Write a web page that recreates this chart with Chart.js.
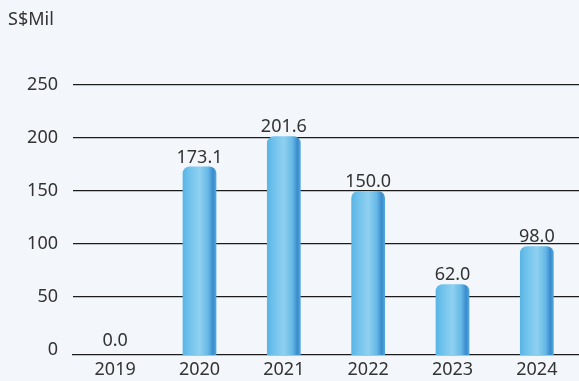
<!DOCTYPE html>
<html>
<head>
<meta charset="utf-8">
<script src="https://cdn.jsdelivr.net/npm/chart.js@4/dist/chart.umd.min.js"></script>
<style>
  html, body { margin: 0; padding: 0; background: #f3f6fa; }
  #wrap { position: relative; width: 579px; height: 381px; }
</style>
</head>
<body>
<div id="wrap"><canvas id="c" width="579" height="381"></canvas></div>
<script>
const categories = ['2019', '2020', '2021', '2022', '2023', '2024'];
const values = [0.0, 173.1, 201.6, 150.0, 62.0, 98.0];
const tickValues = [0, 50, 100, 150, 200, 250];
const unitLabel = 'S$Mil';

const FONT = '"Noto Sans", "Open Sans", sans-serif';
const TEXT = '#333333';
const LINE = '#1c1c1c';
const Y_MIN = -4.7;

function barFill(ctx) {
  const chart = ctx.chart;
  const v = ctx.raw;
  if (v === 0) return 'rgba(0,0,0,0)';
  const xs = chart.scales && chart.scales.x;
  if (!xs || !chart.chartArea) return '#6cc0ea';
  const cx = xs.getPixelForValue(ctx.dataIndex);
  const half = 17;
  const g = chart.ctx.createLinearGradient(cx - half, 0, cx + half, 0);
  g.addColorStop(0, '#58b4e4');
  g.addColorStop(0.2, '#70c2ec');
  g.addColorStop(0.5, '#8fd0f0');
  g.addColorStop(0.75, '#66b9e6');
  g.addColorStop(0.9, '#3a8bcc');
  g.addColorStop(1, '#56abdd');
  return g;
}

const labelPlugin = {
  id: 'valueLabels',
  afterDatasetsDraw(chart) {
    const c = chart.ctx;
    const meta = chart.getDatasetMeta(0);
    c.save();
    c.font = '18px ' + FONT;
    c.fillStyle = TEXT;
    c.textAlign = 'center';
    c.textBaseline = 'alphabetic';
    meta.data.forEach((bar, i) => {
      c.fillText(values[i].toFixed(1), bar.x, bar.y - 4);
    });
    c.restore();
  },
  afterDraw(chart) {
    const c = chart.ctx;
    c.save();
    c.font = '18px ' + FONT;
    c.fillStyle = TEXT;
    c.textAlign = 'left';
    c.textBaseline = 'middle';
    c.fillText(unitLabel, 8, 20);
    c.restore();
  }
};

new Chart(document.getElementById('c'), {
  type: 'bar',
  data: {
    labels: categories,
    datasets: [{
      data: values,
      base: Y_MIN,
      backgroundColor: barFill,
      borderWidth: 0,
      borderRadius: { topLeft: 7, topRight: 7, bottomLeft: 0, bottomRight: 0 },
      borderSkipped: 'bottom',
      categoryPercentage: 1,
      barPercentage: 0.4
    }]
  },
  options: {
    responsive: false,
    animation: false,
    layout: { padding: { top: 85, left: 0, right: -4, bottom: 0 } },
    plugins: { legend: { display: false }, tooltip: { enabled: false } },
    scales: {
      x: {
        grid: { display: false, drawTicks: false },
        border: { display: true, color: LINE, width: 1.2 },
        ticks: { color: TEXT, font: { family: FONT, size: 18 }, padding: 4, maxRotation: 0 },
        afterFit(s) { s.height = 26; }
      },
      y: {
        min: Y_MIN,
        max: 250,
        afterBuildTicks(s) { s.ticks = tickValues.map(v => ({ value: v })); },
        grid: {
          drawTicks: false,
          color: (ctx) => (ctx.tick && ctx.tick.value === 0) ? 'rgba(0,0,0,0)' : LINE,
          lineWidth: 1.2
        },
        border: { display: false },
        ticks: { color: TEXT, font: { family: FONT, size: 18 }, padding: 15 },
        afterFit(s) { s.width = 73; }
      }
    }
  },
  plugins: [labelPlugin]
});
</script>
</body>
</html>
